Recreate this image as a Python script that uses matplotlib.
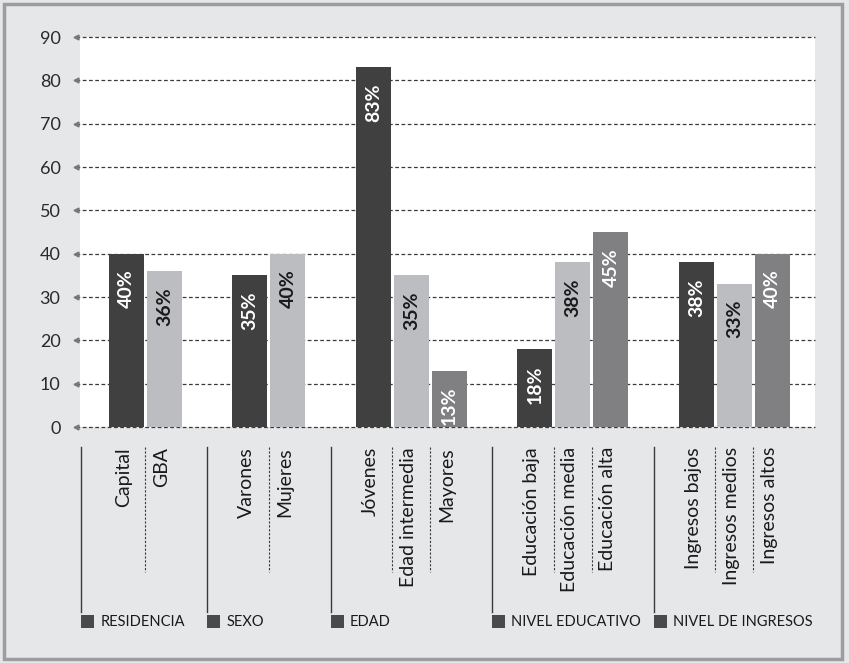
import matplotlib
matplotlib.use("Agg")
import matplotlib.pyplot as plt
import matplotlib.transforms as mtransforms
from matplotlib.patches import Rectangle
from matplotlib.lines import Line2D

plt.rcParams['font.family'] = ['Lato', 'DejaVu Sans']

# survey groups, their categories and percentages
groups = ["RESIDENCIA", "SEXO", "EDAD", "NIVEL EDUCATIVO", "NIVEL DE INGRESOS"]
categories = [
    ["Capital", "GBA"],
    ["Varones", "Mujeres"],
    ["Jóvenes", "Edad intermedia", "Mayores"],
    ["Educación baja", "Educación media", "Educación alta"],
    ["Ingresos bajos", "Ingresos medios", "Ingresos altos"],
]
values = [
    [40, 36],
    [35, 40],
    [83, 35, 13],
    [18, 38, 45],
    [38, 33, 40],
]
yticks = [0, 10, 20, 30, 40, 50, 60, 70, 80, 90]

bar_colors = ["#404040", "#bcbdc0", "#808083"]
text_colors = ["white", "#1a1a1a", "white"]
bg = "#e6e7e9"

W, H = 849, 663
fig = plt.figure(figsize=(W / 100, H / 100), dpi=100, facecolor=bg)
ax = fig.add_axes([80 / W, 1 - 427 / H, 735 / W, 390 / H])
ax.set_facecolor("white")

# frame around the whole figure
fig.patches.append(Rectangle((3.5 / W, 4 / H), 838 / W, 655 / H, transform=fig.transFigure,
                             fill=False, edgecolor="#9d9d9f", linewidth=2.5))

start, gap, width = 1.22, 2.25, 0.92
blend = mtransforms.blended_transform_factory(ax.transData, ax.transAxes)
blend_x = mtransforms.blended_transform_factory(ax.transAxes, ax.transData)

# horizontal dashed gridlines with small arrowheads on the left
for t in yticks:
    ax.add_line(Line2D([-0.006, 1], [t, t], transform=blend_x, color="#3a3a3a",
                       linestyle=(0, (3, 2)), linewidth=0.9, clip_on=False, zorder=1))
    ax.plot([-0.006], [t], marker="<", markersize=3.5, color="#777777",
            transform=blend_x, clip_on=False, zorder=1)

pos = start
prev_end = None
for gi, (gname, cats, vals) in enumerate(zip(groups, categories, values)):
    xs = [pos + i for i in range(len(cats))]
    # solid separator before each group
    sep = 0.03 if prev_end is None else (prev_end + xs[0]) / 2
    ax.add_line(Line2D([sep, sep], [-0.0513, -0.474], transform=blend, color="#3a3a3a",
                       linewidth=1.0, clip_on=False))
    ax.add_patch(Rectangle((sep, -0.515), 0.34, 0.033, transform=blend,
                           facecolor="#4a4a4c", edgecolor="none", clip_on=False))
    ax.text(sep + 0.5, -0.499, gname, transform=blend, ha="left", va="center",
            fontsize=10.5, color="#1a1a1a")
    for i, (x, c, v) in enumerate(zip(xs, cats, vals)):
        ax.bar(x, v, width=width, color=bar_colors[i], zorder=2)
        ax.annotate(f"{v}%", (x, v), xytext=(0, -16), textcoords="offset pixels",
                    rotation=90, ha="center", va="top", fontsize=14,
                    fontweight="bold", color=text_colors[i], zorder=3)
        ax.text(x - 0.08, -0.0513, c, transform=blend, rotation=90, ha="center",
                va="top", fontsize=14, color="#1a1a1a")
        if i > 0:
            mid = (xs[i - 1] + x) / 2
            ax.add_line(Line2D([mid, mid], [-0.0513, -0.372], transform=blend,
                               color="#3a3a3a", linestyle=(0, (2, 1.5)),
                               linewidth=0.8, clip_on=False))
    prev_end = xs[-1]
    pos = xs[-1] + gap

ax.set_xlim(0, 735 / 38)
ax.set_ylim(0, 90)
ax.set_yticks(yticks)
ax.set_yticklabels([str(t) for t in yticks], fontsize=13, color="#2a2a2a")
ax.tick_params(axis="y", length=0, pad=14)
ax.set_xticks([])
for s in ax.spines.values():
    s.set_visible(False)

fig.savefig("out.png", dpi=100, facecolor=bg)
